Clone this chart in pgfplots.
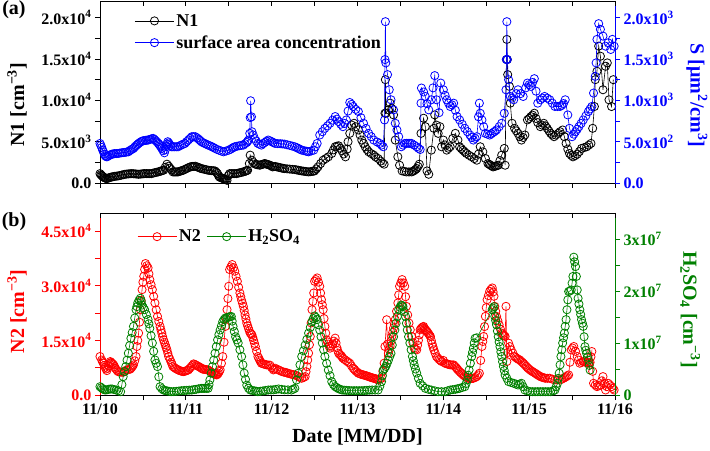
\documentclass[border=0pt]{standalone}
\usepackage{fontspec}
\setmainfont{Liberation Serif}
\usepackage{pgfplots}
\usepackage{pgfplotstable}
\pgfplotsset{compat=1.18}
\definecolor{ogreen}{RGB}{0,128,0}
\definecolor{oblue}{RGB}{0,0,255}
\definecolor{ored}{RGB}{255,0,0}

\pgfplotstableread{
d v
0.00 1135
0.01 1000
0.02 900
0.03 800
0.04 730
0.05 650
0.06 600
0.07 560
0.08 527
0.095 590
0.11 650
0.125 700
0.14 730
0.155 770
0.17 800
0.19 830
0.21 852
0.23 900
0.25 950
0.27 1000
0.29 1054
0.31 1080
0.33 1100
0.35 1120
0.37 1135
0.39 1120
0.41 1100
0.43 1080
0.45 1054
0.47 1080
0.49 1100
0.505 1120
0.52 1135
0.54 1135
0.56 1135
0.58 1135
0.60 1135
0.62 1200
0.64 1250
0.66 1300
0.68 1338
0.695 1400
0.71 1450
0.725 1500
0.74 1541
0.76 1900
0.78 2271
0.80 2028
0.815 1800
0.83 1600
0.85 1338
0.865 1338
0.88 1338
0.895 1338
0.91 1338
0.925 1400
0.94 1450
0.955 1500
0.97 1541
0.99 1650
1.01 1750
1.03 1850
1.05 1946
1.065 1980
1.08 2000
1.095 2010
1.11 2028
1.13 1950
1.15 1880
1.165 1800
1.18 1744
1.20 1700
1.22 1650
1.24 1600
1.26 1541
1.28 1520
1.30 1500
1.32 1480
1.34 1460
1.355 1300
1.37 1135
1.38 900
1.39 730
1.405 650
1.42 600
1.43 560
1.44 527
1.45 480
1.46 450
1.47 400
1.48 324
1.495 900
1.51 1135
1.53 1135
1.55 1135
1.57 1135
1.59 1135
1.61 1190
1.63 1240
1.65 1290
1.67 1338
1.685 1400
1.70 1450
1.71 1500
1.72 1541
1.74 2352
1.75 3366
1.77 2757
1.79 2450
1.81 2271
1.825 2230
1.84 2200
1.86 2149
1.875 2200
1.89 2250
1.905 2300
1.92 2352
1.935 2300
1.95 2250
1.965 2200
1.98 2149
2.00 2050
2.01 1950
2.025 1980
2.04 2000
2.06 1950
2.08 1900
2.10 1850
2.12 1800
2.135 1770
2.15 1744
2.18 1710
2.21 1680
2.24 1650
2.27 1622
2.29 1580
2.31 1540
2.33 1500
2.35 1460
2.37 1430
2.39 1400
2.41 1370
2.43 1338
2.45 1370
2.47 1400
2.485 1430
2.50 1460
2.52 1700
2.54 1946
2.57 2350
2.60 2757
2.63 2950
2.66 3163
2.70 3568
2.72 4000
2.74 4379
2.76 4450
2.78 4501
2.80 4200
2.82 3893
2.84 3500
2.86 3163
2.88 4100
2.89 4988
2.91 6000
2.93 7015
2.96 7218
2.98 6800
3.01 6407
3.03 5800
3.05 5190
3.07 4780
3.09 4379
3.11 4050
3.13 3771
3.16 3550
3.19 3366
3.21 3150
3.24 2960
3.27 2650
3.29 2433
3.31 2271
3.32 8434
3.325 12490
3.33 8434
3.36 8840
3.38 9651
3.40 9000
3.42 8232
3.44 5190
3.47 3163
3.49 2149
3.52 1460
3.545 1400
3.57 1338
3.60 1338
3.63 1338
3.645 1420
3.66 1500
3.675 1620
3.69 1744
3.705 2000
3.72 2271
3.74 6001
3.77 7826
3.79 6812
3.81 1460
3.83 1054
3.86 3974
3.89 6610
3.90 8232
3.92 7000
3.94 6001
3.96 6812
3.98 4379
4.00 5190
4.02 4600
4.04 3974
4.06 4200
4.08 4379
4.11 5393
4.14 6001
4.17 5190
4.19 4379
4.21 4150
4.23 3950
4.25 3750
4.27 3568
4.30 3350
4.33 3163
4.36 2950
4.39 2757
4.41 3500
4.43 4379
4.46 3771
4.49 2960
4.52 2352
4.535 2250
4.55 2150
4.565 2050
4.58 1946
4.595 2000
4.61 2050
4.625 2100
4.64 2149
4.66 2700
4.68 3366
4.71 4177
4.72 2149
4.735 14922
4.74 17355
4.745 14922
4.75 13098
4.77 11678
4.78 9651
4.80 7218
4.83 6610
4.85 6300
4.87 6001
4.89 5600
4.91 5190
4.93 5500
4.95 5799
4.98 7623
5.00 7800
5.02 8029
5.04 8200
5.06 8434
5.08 7800
5.10 7299
5.13 6812
5.15 7000
5.17 7218
5.19 6900
5.21 6610
5.23 6300
5.25 6001
5.27 5800
5.29 5596
5.31 5800
5.34 6001
5.36 6200
5.39 6407
5.41 5600
5.43 4785
5.45 4100
5.47 3568
5.49 3350
5.51 3163
5.535 3300
5.56 3487
5.585 3800
5.61 4177
5.64 4280
5.67 4379
5.695 4580
5.72 4785
5.74 6610
5.76 9245
5.77 12490
5.79 13503
5.81 16544
5.83 15328
5.86 11273
5.89 14111
5.91 14517
5.93 10056
5.96 9245
5.98 12490
}\tabNone

\pgfplotstableread{
d v
0.00 478
0.01 455
0.02 430
0.03 400
0.04 377
0.05 350
0.06 330
0.07 320
0.08 316
0.095 325
0.11 335
0.125 342
0.14 349
0.155 352
0.17 355
0.19 356
0.21 357
0.23 361
0.25 365
0.27 368
0.29 370
0.31 374
0.33 377
0.345 390
0.36 400
0.375 410
0.39 418
0.405 435
0.42 450
0.435 465
0.45 478
0.465 490
0.48 500
0.495 508
0.51 512
0.53 515
0.545 517
0.56 519
0.575 525
0.59 530
0.605 535
0.62 539
0.635 525
0.65 510
0.665 495
0.68 478
0.69 465
0.70 450
0.71 435
0.72 418
0.735 390
0.75 365
0.76 400
0.77 440
0.78 470
0.79 499
0.80 485
0.81 470
0.82 455
0.83 438
0.85 438
0.87 438
0.89 438
0.91 438
0.93 450
0.95 460
0.97 470
0.99 478
1.01 500
1.03 520
1.05 540
1.07 560
1.09 560
1.11 560
1.13 545
1.15 530
1.165 515
1.18 499
1.20 488
1.22 478
1.24 468
1.26 458
1.28 450
1.30 440
1.32 430
1.34 418
1.365 405
1.39 395
1.415 385
1.44 377
1.47 387
1.50 397
1.52 408
1.54 420
1.555 430
1.57 438
1.595 444
1.62 450
1.645 454
1.67 458
1.69 475
1.71 490
1.72 505
1.73 519
1.745 600
1.75 791
1.755 994
1.765 800
1.77 620
1.785 580
1.80 539
1.82 508
1.84 478
1.86 468
1.88 458
1.90 475
1.92 490
1.94 505
1.96 519
1.98 510
2.00 500
2.02 489
2.04 478
2.07 476
2.10 475
2.125 472
2.15 470
2.18 462
2.21 455
2.24 446
2.27 438
2.29 428
2.31 418
2.33 408
2.35 397
2.375 391
2.40 385
2.415 381
2.43 377
2.46 387
2.49 397
2.51 438
2.53 478
2.56 580
2.59 620
2.62 661
2.65 690
2.68 722
2.71 760
2.74 803
2.76 772
2.78 742
2.805 710
2.83 681
2.85 720
2.87 762
2.89 870
2.91 973
2.93 950
2.95 925
2.98 890
3.01 864
3.04 790
3.07 722
3.10 660
3.13 600
3.16 560
3.19 519
3.23 495
3.26 478
3.28 458
3.30 438
3.315 762
3.32 1492
3.325 1950
3.33 1452
3.35 1310
3.37 1127
3.39 1006
3.42 884
3.44 722
3.46 640
3.48 560
3.51 438
3.53 458
3.55 478
3.57 479
3.59 480
3.61 479
3.63 478
3.66 458
3.69 438
3.71 420
3.73 405
3.74 965
3.745 1148
3.77 1100
3.79 1046
3.81 960
3.83 884
3.86 1006
3.88 1150
3.90 1298
3.92 1006
3.95 850
3.97 1208
4.00 1127
4.02 1060
4.04 1006
4.06 965
4.08 925
4.10 945
4.12 965
4.14 880
4.16 803
4.19 762
4.22 710
4.25 661
4.28 620
4.31 580
4.33 550
4.35 519
4.37 540
4.39 560
4.41 800
4.42 965
4.43 843
4.45 762
4.47 680
4.49 600
4.515 590
4.54 580
4.56 595
4.58 610
4.60 625
4.62 641
4.65 680
4.68 722
4.71 843
4.73 1127
4.735 1492
4.74 1950
4.745 1492
4.76 1249
4.78 1046
4.80 1026
4.82 1006
4.85 1080
4.87 1127
4.90 1080
4.93 1046
4.96 1150
4.98 1208
5.00 1188
5.02 1168
5.04 1215
5.06 1261
5.08 1110
5.10 965
5.13 1006
5.155 1026
5.18 1046
5.21 1026
5.24 1006
5.27 965
5.30 925
5.33 925
5.36 925
5.38 940
5.40 960
5.42 1006
5.45 823
5.47 661
5.50 560
5.52 590
5.54 620
5.56 650
5.58 681
5.605 720
5.63 762
5.66 810
5.69 864
5.71 895
5.73 925
5.75 1087
5.77 1289
5.78 1452
5.79 1736
5.81 1926
5.83 1857
5.86 1776
5.89 1654
5.92 1695
5.95 1614
5.97 1736
5.99 1654
}\tabS

\pgfplotstableread{
d v
0.00 10569
0.02 9600
0.03 9150
0.04 8731
0.05 8150
0.06 7600
0.07 7150
0.08 6709
0.09 7350
0.10 8000
0.11 8600
0.12 9190
0.13 8950
0.14 8700
0.15 8500
0.16 8271
0.17 7800
0.18 7300
0.195 6850
0.21 6433
0.225 6370
0.24 6300
0.255 6270
0.27 6249
0.29 6570
0.31 6893
0.33 6980
0.35 7076
0.36 7350
0.37 7600
0.38 7950
0.39 8271
0.405 9400
0.42 10569
0.43 13326
0.44 15000
0.45 17002
0.46 20000
0.47 23435
0.48 26000
0.49 28949
0.50 31000
0.51 32625
0.52 34500
0.53 36117
0.545 35500
0.56 34922
0.57 33300
0.58 31706
0.595 30300
0.61 28949
0.625 27100
0.64 25273
0.655 23400
0.67 21597
0.685 20200
0.70 18840
0.71 17900
0.72 17000
0.73 16000
0.74 15164
0.75 14500
0.76 13800
0.77 13100
0.78 12407
0.79 11500
0.80 10569
0.815 9800
0.83 9000
0.84 8400
0.85 7812
0.865 7550
0.88 7300
0.895 7100
0.91 6893
0.925 6750
0.94 6600
0.955 6500
0.97 6433
0.985 6500
1.00 6600
1.015 6750
1.03 6893
1.045 7300
1.06 7700
1.075 8100
1.09 8547
1.105 8400
1.12 8200
1.135 8000
1.15 7812
1.165 7600
1.18 7400
1.19 7250
1.20 7076
1.215 7050
1.23 7000
1.245 6950
1.26 6893
1.275 6650
1.29 6400
1.305 6200
1.32 5974
1.33 5850
1.34 5700
1.35 5600
1.36 5514
1.37 5750
1.38 6000
1.39 6450
1.40 6893
1.415 8700
1.43 10569
1.445 14500
1.46 18840
1.47 21000
1.48 23435
1.49 26500
1.50 29868
1.51 34463
1.525 35200
1.54 35841
1.555 35000
1.57 34003
1.585 32600
1.60 31246
1.615 29600
1.63 28030
1.64 27000
1.65 26000
1.66 25200
1.67 24354
1.68 23200
1.69 22000
1.70 20900
1.71 19759
1.72 19000
1.73 18300
1.74 17600
1.75 17002
1.76 16800
1.77 16542
1.78 15800
1.79 15000
1.80 14200
1.81 13326
1.825 12000
1.84 10569
1.85 10100
1.86 9600
1.87 9150
1.88 8731
1.895 8600
1.91 8500
1.925 8400
1.94 8271
1.96 8230
1.98 8200
2.00 7500
2.02 6900
2.03 7100
2.04 7352
2.06 7100
2.08 6900
2.10 6650
2.12 6433
2.14 6300
2.16 6200
2.175 6100
2.19 5974
2.21 5850
2.23 5700
2.25 5600
2.27 5514
2.29 5300
2.31 5055
2.33 4800
2.35 4595
2.37 4800
2.39 5055
2.40 6400
2.41 7812
2.42 9600
2.43 11488
2.44 13800
2.45 16083
2.46 19800
2.47 23435
2.48 25700
2.49 28030
2.50 31246
2.515 31700
2.53 32165
2.545 31000
2.56 29868
2.57 28000
2.58 26192
2.59 24800
2.60 23435
2.61 21000
2.62 18840
2.63 17000
2.64 15164
2.65 14600
2.66 14000
2.67 13400
2.68 12866
2.695 13400
2.71 14000
2.725 14800
2.74 15623
2.75 14300
2.76 13000
2.77 12200
2.78 11488
2.795 11100
2.81 10800
2.82 10450
2.83 10109
2.85 9750
2.87 9400
2.89 9050
2.91 8731
2.93 8000
2.95 7352
2.965 7000
2.98 6600
2.995 6300
3.01 5974
3.025 5850
3.04 5700
3.055 5600
3.07 5514
3.085 5400
3.10 5300
3.115 5180
3.13 5055
3.145 4930
3.16 4800
3.175 4700
3.19 4595
3.205 4500
3.22 4400
3.23 4270
3.24 4136
3.26 4350
3.28 4595
3.295 6500
3.31 8731
3.32 13326
3.34 20678
3.35 14000
3.36 11488
3.37 12500
3.38 13500
3.39 14800
3.40 16083
3.41 17200
3.42 18400
3.43 19500
3.44 20678
3.455 23000
3.47 25273
3.48 27500
3.49 29868
3.505 30800
3.52 31706
3.535 30800
3.55 29868
3.56 27000
3.57 24354
3.585 22000
3.60 19759
3.615 17900
3.63 16083
3.645 14400
3.66 12866
3.675 12600
3.69 12407
3.70 13700
3.71 15000
3.72 16500
3.73 17921
3.74 18200
3.75 18500
3.76 18700
3.77 18840
3.78 18400
3.79 18000
3.80 17700
3.81 17461
3.82 17100
3.83 16800
3.84 16400
3.85 16083
3.86 15000
3.87 14000
3.88 13200
3.89 12407
3.905 11500
3.92 10569
3.935 10200
3.95 9800
3.965 9500
3.98 9190
4.00 9500
4.02 8731
4.035 8600
4.05 8500
4.065 8380
4.08 8271
4.10 8271
4.12 8271
4.135 7900
4.15 7500
4.16 7200
4.17 6893
4.185 6550
4.20 6200
4.215 5850
4.23 5514
4.245 5250
4.26 5000
4.275 4800
4.29 4595
4.305 4550
4.32 4500
4.335 4550
4.35 4595
4.37 4800
4.39 5055
4.405 5500
4.42 5974
4.435 9500
4.45 13326
4.46 14700
4.47 16083
4.48 18800
4.49 21597
4.50 24000
4.51 26192
4.525 27300
4.54 28489
4.555 29000
4.57 29408
4.58 28300
4.59 27111
4.60 24354
4.61 23000
4.62 21597
4.635 20400
4.65 19299
4.665 18100
4.68 17002
4.69 16750
4.70 16500
4.71 16300
4.72 16083
4.73 24354
4.74 9190
4.75 11700
4.76 14245
4.775 13300
4.79 12407
4.81 11500
4.83 10569
4.845 10300
4.86 10000
4.875 9800
4.89 9650
4.905 9300
4.92 9000
4.935 8650
4.95 8271
4.965 7900
4.98 7500
4.995 7200
5.01 6893
5.025 6650
5.04 6400
5.055 6200
5.07 5974
5.085 5750
5.10 5500
5.115 5280
5.13 5055
5.145 4930
5.16 4800
5.175 4700
5.19 4595
5.215 4595
5.24 4595
5.27 4350
5.30 4136
5.33 4136
5.36 4136
5.38 4350
5.40 4595
5.415 4800
5.43 5000
5.445 5250
5.46 5514
5.475 9000
5.49 12407
5.505 12900
5.52 13326
5.54 12000
5.56 10569
5.575 9600
5.59 8731
5.61 8950
5.63 9190
5.645 9100
5.66 9000
5.675 8850
5.69 8731
5.70 8850
5.71 9000
5.72 10500
5.73 11947
5.74 6500
5.75 3217
5.77 2750
5.79 2298
5.81 2500
5.83 2757
5.845 3900
5.86 5055
5.875 3200
5.89 1379
5.905 2300
5.92 3217
5.94 2750
5.96 2298
5.975 1800
5.99 1379
}\tabNtwo

\pgfplotstableread{
d v
0.00 1.6e6
0.015 1.4e6
0.03 1.2e6
0.045 1.05e6
0.06 0.96e6
0.08 1.0e6
0.10 1.1e6
0.12 1.15e6
0.14 1.16e6
0.165 1.05e6
0.19 0.96e6
0.215 0.8e6
0.24 0.64e6
0.255 2.0e6
0.27 3.53e6
0.285 4.5e6
0.30 5.46e6
0.315 6.7e6
0.33 8.03e6
0.345 9.5e6
0.36 10.9e6
0.375 12.0e6
0.39 13.2e6
0.405 14.8e6
0.42 16.4e6
0.43 17.0e6
0.44 17.7e6
0.455 18.2e6
0.47 18.6e6
0.48 18.0e6
0.49 17.3e6
0.505 16.8e6
0.52 16.4e6
0.54 15.5e6
0.56 14.5e6
0.57 13.7e6
0.58 12.8e6
0.595 11.4e6
0.61 10.0e6
0.625 8.4e6
0.64 6.74e6
0.655 6.1e6
0.67 5.46e6
0.685 3.5e6
0.70 1.6e6
0.72 1.2e6
0.74 0.96e6
0.76 0.85e6
0.78 0.8e6
0.805 0.7e6
0.83 0.64e6
0.86 0.67e6
0.89 0.7e6
0.92 0.77e6
0.95 0.83e6
0.98 0.87e6
1.01 0.9e6
1.04 0.93e6
1.07 0.96e6
1.095 1.03e6
1.12 1.1e6
1.15 1.2e6
1.18 1.28e6
1.20 1.28e6
1.22 1.28e6
1.24 1.28e6
1.26 1.28e6
1.27 2.0e6
1.28 2.89e6
1.295 4.2e6
1.31 5.46e6
1.325 6.7e6
1.34 8.03e6
1.355 9.3e6
1.37 10.6e6
1.385 11.6e6
1.40 12.5e6
1.415 13.3e6
1.43 14.1e6
1.445 14.5e6
1.46 14.8e6
1.48 14.9e6
1.50 15.0e6
1.515 15.05e6
1.53 15.1e6
1.54 14.2e6
1.55 13.2e6
1.565 12.2e6
1.58 11.2e6
1.595 10.6e6
1.61 10.0e6
1.63 8.7e6
1.65 7.4e6
1.665 5.8e6
1.68 4.2e6
1.695 3.0e6
1.71 1.9e6
1.73 1.3e6
1.75 0.96e6
1.775 0.88e6
1.80 0.8e6
1.82 0.72e6
1.84 0.64e6
1.87 0.72e6
1.90 0.8e6
1.93 0.88e6
1.96 0.96e6
1.99 0.98e6
2.02 1.0e6
2.05 1.08e6
2.08 1.16e6
2.115 1.08e6
2.15 1.0e6
2.19 0.98e6
2.23 0.96e6
2.25 1.1e6
2.27 1.28e6
2.29 2.89e6
2.31 4.18e6
2.33 5.8e6
2.35 7.4e6
2.37 8.5e6
2.39 9.6e6
2.41 10.7e6
2.43 11.9e6
2.45 13.0e6
2.47 14.1e6
2.485 14.7e6
2.50 15.2e6
2.515 14.9e6
2.53 14.5e6
2.545 13.5e6
2.56 12.5e6
2.575 11.2e6
2.59 10.0e6
2.605 8.7e6
2.62 7.4e6
2.64 6.1e6
2.66 4.8e6
2.68 3.7e6
2.70 2.57e6
2.72 2.0e6
2.74 1.6e6
2.76 1.4e6
2.78 1.2e6
2.80 1.08e6
2.82 0.96e6
2.845 0.93e6
2.87 0.9e6
2.90 0.86e6
2.93 0.83e6
2.96 0.83e6
2.99 0.83e6
3.02 0.83e6
3.05 0.83e6
3.08 0.86e6
3.11 0.9e6
3.14 0.93e6
3.17 0.96e6
3.205 0.96e6
3.24 0.96e6
3.26 1.7e6
3.28 2.57e6
3.29 3.7e6
3.30 4.8e6
3.315 5.1e6
3.33 5.5e6
3.345 6.1e6
3.36 6.7e6
3.375 7.4e6
3.39 8.0e6
3.405 9.6e6
3.42 11.2e6
3.435 12.5e6
3.45 13.8e6
3.465 15.1e6
3.48 16.4e6
3.495 16.9e6
3.51 17.3e6
3.52 17.2e6
3.53 17.0e6
3.545 16.0e6
3.56 15.1e6
3.57 13.8e6
3.58 12.5e6
3.595 11.2e6
3.61 10.0e6
3.625 8.7e6
3.64 7.4e6
3.65 6.6e6
3.66 5.8e6
3.675 5.0e6
3.69 4.2e6
3.71 3.2e6
3.73 2.25e6
3.76 1.75e6
3.79 1.28e6
3.825 1.1e6
3.86 0.96e6
3.90 0.8e6
3.94 0.64e6
3.98 0.64e6
4.02 0.64e6
4.05 0.8e6
4.08 0.96e6
4.11 1.03e6
4.14 1.1e6
4.165 1.2e6
4.19 1.28e6
4.22 1.45e6
4.25 1.6e6
4.265 2.2e6
4.28 2.9e6
4.29 3.8e6
4.30 4.8e6
4.315 6.1e6
4.33 7.4e6
4.34 8.2e6
4.35 9.0e6
4.36 10.0e6
4.37 10.9e6
4.39 11.0e6
4.57 16.4e6
4.58 16.7e6
4.59 17.0e6
4.60 15.1e6
4.61 14.3e6
4.62 13.5e6
4.63 12.3e6
4.64 11.2e6
4.65 10.2e6
4.66 9.3e6
4.67 8.3e6
4.68 7.4e6
4.69 6.4e6
4.70 5.5e6
4.71 4.7e6
4.72 3.85e6
4.74 3.2e6
4.76 2.57e6
4.79 2.4e6
4.82 2.25e6
4.845 2.1e6
4.87 1.93e6
4.89 2.1e6
4.91 2.25e6
4.93 1.6e6
4.95 0.96e6
4.98 0.8e6
5.01 0.64e6
5.04 0.64e6
5.07 0.64e6
5.10 0.64e6
5.13 0.64e6
5.16 0.64e6
5.19 0.64e6
5.22 0.64e6
5.25 0.64e6
5.28 0.8e6
5.30 0.96e6
5.315 1.6e6
5.33 2.25e6
5.34 3.2e6
5.35 4.2e6
5.36 5.8e6
5.37 7.4e6
5.38 8.7e6
5.39 10.0e6
5.40 11.0e6
5.41 11.9e6
5.42 13.2e6
5.43 14.5e6
5.44 16.4e6
5.45 18.3e6
5.46 19.9e6
5.475 20.0e6
5.49 20.2e6
5.50 21.5e6
5.51 22.8e6
5.52 26.5e6
5.53 25.6e6
5.54 24.7e6
5.55 22.8e6
5.56 20.2e6
5.57 18.6e6
5.58 17.5e6
5.59 16.4e6
5.60 15.5e6
5.61 14.5e6
5.62 13.8e6
5.63 13.2e6
5.64 11.2e6
5.65 9.3e6
5.66 8.6e6
5.67 8.0e6
5.68 7.3e6
5.69 6.7e6
5.70 5.7e6
5.71 4.8e6
}\tabH

\newcommand{\tickfont}{\bfseries\fontsize{16bp}{18bp}\selectfont}
\newcommand{\labfont}{\bfseries\fontsize{20bp}{22bp}\selectfont}
\newcommand{\legfont}{\bfseries\fontsize{18bp}{20bp}\selectfont}

\pgfplotsset{
  base/.style={
    scale only axis, width=515bp, height=182bp,
    xmin=0, xmax=6, xtick={0,0.5,...,6},
    scaled x ticks=false, scaled y ticks=false,
    tick align=outside, major tick length=5bp,
    tick label style={font=\tickfont},
    label style={font=\labfont},
    axis line style={line width=0.8bp},
    every tick/.style={line width=0.8bp},
    legend image code/.code={\draw[mark repeat=2,mark phase=2,##1] plot coordinates {(0bp,0bp) (19.5bp,0bp) (39bp,0bp)};},
  },
  ser/.style={line width=0.6bp, mark=o, mark size=4.1bp, mark options={solid, line width=0.8bp}},
  topticks/.style={base, axis x line*=top, axis y line=none, tick align=inside, xticklabels={}, ymin=0, ymax=1},
}

\begin{document}
\begin{tikzpicture}
% ---------- panel (a) ----------
\begin{axis}[base, at={(0,212bp)}, anchor=south west, clip=false,
  axis x line*=bottom, axis y line*=left,
  ymin=0, ymax=22000, ytick={0,2500,...,20000},
  yticklabels={0.0,,5.0x10\textsuperscript{3},,1.0x10\textsuperscript{4},,1.5x10\textsuperscript{4},,2.0x10\textsuperscript{4}},
  xticklabels={},
  ylabel={N1 [cm\textsuperscript{−3}]},
  ylabel style={at={(axis description cs:-0.161,0.43)}, anchor=center},
]
\addplot[ser, black] table[x=d, y=v] {\tabNone};
\node[font=\labfont, anchor=center] at (axis description cs:-0.167,0.95) {(a)};
\end{axis}
\begin{axis}[base, at={(0,212bp)}, anchor=south west,
  axis x line=none, axis y line*=right,
  ymin=0, ymax=2200, ytick={0,250,...,2000},
  yticklabels={0.0,,5.0x10\textsuperscript{2},,1.0x10\textsuperscript{3},,1.5x10\textsuperscript{3},,2.0x10\textsuperscript{3}},
  y axis line style={oblue}, y tick style={oblue}, yticklabel style={text=oblue},
  ylabel={S [μm\textsuperscript{2}/cm\textsuperscript{3}]},
  ylabel style={text=oblue, rotate=180, at={(axis description cs:1.159,0.48)}, anchor=center},
  legend style={at={(axis description cs:0.065,0.945)}, anchor=north west, draw=none, fill=none, font=\legfont, row sep=4bp, inner sep=1bp},
  legend cell align=left,
]
\addlegendimage{ser, black}
\addlegendentry{N1}
\addplot[ser, oblue] table[x=d, y=v] {\tabS};
\addlegendentry{surface area concentration}
\end{axis}
\begin{axis}[topticks, at={(0,212bp)}, anchor=south west]
\end{axis}

% ---------- panel (b) ----------
\begin{axis}[base, at={(0,0)}, anchor=south west, clip=false,
  axis x line*=bottom, axis y line*=left,
  ymin=0, ymax=50000, ytick={0,7500,...,45000},
  yticklabels={0.0,,1.5x10\textsuperscript{4},,3.0x10\textsuperscript{4},,4.5x10\textsuperscript{4}},
  xticklabels={11/10,,11/11,,11/12,,11/13,,11/14,,11/15,,11/16},
  y axis line style={ored}, y tick style={ored}, yticklabel style={text=ored},
  ylabel={N2 [cm\textsuperscript{−3}]},
  ylabel style={text=ored, at={(axis description cs:-0.161,0.46)}, anchor=center},
  xlabel={Date [MM/DD]},
  xlabel style={at={(axis description cs:0.5,-0.23)}, anchor=center},
]
\addplot[ser, ored] table[x=d, y=v] {\tabNtwo};
\node[font=\labfont, anchor=center] at (axis description cs:-0.167,0.95) {(b)};
\end{axis}
\begin{axis}[base, at={(0,0)}, anchor=south west,
  axis x line=none, axis y line*=right,
  ymin=0, ymax=3.5e7, ytick={0,5e6,...,3e7},
  yticklabels={0,,1x10\textsuperscript{7},,2x10\textsuperscript{7},,3x10\textsuperscript{7}},
  y axis line style={ogreen}, y tick style={ogreen}, yticklabel style={text=ogreen},
  ylabel={H\textsubscript{2}SO\textsubscript{4} [cm\textsuperscript{−3}]},
  ylabel style={text=ogreen, rotate=180, at={(axis description cs:1.146,0.47)}, anchor=center},
  legend style={at={(axis description cs:0.07,0.87)}, anchor=west, draw=none, fill=none, font=\legfont, inner sep=1bp},
  legend columns=2,
  legend style={/tikz/every even column/.append style={column sep=4bp}},
]
\addlegendimage{ser, ored}
\addlegendentry{N2}
\addplot[ser, ogreen] table[x=d, y=v] {\tabH};
\addlegendentry{H\textsubscript{2}SO\textsubscript{4}}
\end{axis}
\begin{axis}[topticks, at={(0,0)}, anchor=south west]
\end{axis}

\pgfresetboundingbox
\path[use as bounding box] (-100bp,-56bp) rectangle (610bp,395bp);
\end{tikzpicture}
\end{document}
